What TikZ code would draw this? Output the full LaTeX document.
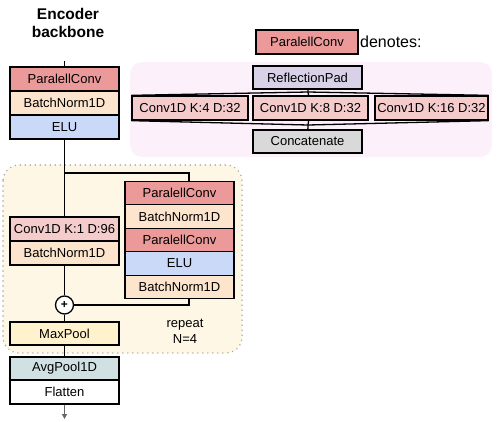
\documentclass[tikz,border=0pt]{standalone}
\usepackage{fontspec}
\setmainfont{Liberation Sans}
\usepackage{tikz}
\usetikzlibrary{positioning,calc,arrows.meta}
\definecolor{pconvred}{rgb}{0.92, 0.6, 0.6}
\definecolor{bnorange}{rgb}{0.99, 0.9, 0.8}
\definecolor{elublue}{rgb}{0.79, 0.85, 0.97}
\definecolor{convpink}{rgb}{0.96, 0.8, 0.8}
\definecolor{padpurple}{rgb}{0.85, 0.82, 0.91}
\definecolor{catgray}{rgb}{0.85, 0.85, 0.85}
\definecolor{poolyellow}{rgb}{1.0, 0.95, 0.8}
\definecolor{avgcyan}{rgb}{0.82, 0.88, 0.89}
\definecolor{bgpink}{rgb}{0.99, 0.94, 0.98}
\definecolor{bgyellow}{rgb}{1.0, 0.97, 0.9}
\tikzset{
	layer/.style={draw,line width=1.3pt,minimum width=109pt,minimum height=24pt,inner sep=0pt,font=\fontsize{13}{15}\selectfont},
	wire/.style={line width=1.3pt}
}
\begin{document}
\begin{tikzpicture}[x=1pt,y=-1pt]
	\useasboundingbox (0,0) rectangle (498,421);
	
	% backgrounds
	\fill[bgpink,rounded corners=12pt] (130,62) rectangle (492,157);
	\draw[bgyellow,fill=bgyellow,rounded corners=16pt] (3,165) rectangle (242,353);
	\draw[gray!70,line width=1.6pt,dash pattern=on 0pt off 5pt,line cap=round,rounded corners=16pt] (3,165) rectangle (242,353);
	
	\node[font=\bfseries\fontsize{15.5}{18.5}\selectfont,align=center] (title) at (68,23) {Encoder\\backbone};
	
	% encoder stem
	\node[layer,fill=pconvred] (pc0) at (64.5,79) {ParalellConv};
	\node[layer,fill=bnorange] (bn0) at (64.5,103) {BatchNorm1D};
	\node[layer,fill=elublue] (elu0) at (64.5,127) {ELU};
	\coordinate (in) at (64.5,61);
	\draw[wire] (in) -- (pc0);
	
	% residual block
	\coordinate (split) at (64.5,173);
	\node[layer,fill=convpink] (skip) at (64.5,229) {Conv1D K:1 D:96};
	\node[layer,fill=bnorange] (bn1) at (64.5,253) {BatchNorm1D};
	
	\node[layer,fill=pconvred,minimum height=23.5pt] (pc1) at (179.5,193) {ParalellConv};
	\node[layer,fill=bnorange,minimum height=23.5pt] (bn2) at (179.5,216.5) {BatchNorm1D};
	\node[layer,fill=pconvred,minimum height=23.5pt] (pc2) at (179.5,240) {ParalellConv};
	\node[layer,fill=elublue,minimum height=23.5pt] (elu1) at (179.5,263.5) {ELU};
	\node[layer,fill=bnorange,minimum height=23.5pt] (bn3) at (179.5,287) {BatchNorm1D};
	
	\node[circle,draw,line width=1.3pt,fill=white,minimum size=18pt,inner sep=0pt,font=\bfseries\fontsize{12}{12}\selectfont] (add) at (64.5,305) {+};
	\node[layer,fill=poolyellow,minimum height=23pt] (mp) at (64.5,333.5) {MaxPool};
	\node[font=\fontsize{13}{16}\selectfont,align=center] (rep) at (185,331) {repeat\\N=4};
	
	\draw[wire] (elu0) -- (skip);
	\draw[wire] (split) -| ($(pc1.north)+(9.5,0)$);
	\draw[wire] ($(bn3.south)+(9.5,0)$) |- (add);
	\draw[wire] (bn1) -- (add);
	\draw[wire] (add) -- (mp);
	
	% head
	\node[layer,fill=avgcyan,minimum height=23pt] (avg) at (64.5,368.5) {AvgPool1D};
	\node[layer,fill=white] (flat) at (64.5,392) {Flatten};
	\coordinate (out) at (64.5,419);
	\draw[wire] (mp) -- (avg);
	\draw[wire,gray!80!black,-{Triangle[width=5pt,length=5pt]}] (flat) -- (out);
	
	% legend
	\node[layer,fill=pconvred,minimum width=102pt] (key) at (307,42) {ParalellConv};
	\node[anchor=west,font=\fontsize{16}{18}\selectfont,inner sep=0pt] (den) at (360,42) {denotes:};
	\node[layer,fill=padpurple,minimum height=23pt] (pad) at (307.5,77.5) {ReflectionPad};
	\node[layer,fill=convpink,minimum width=116pt] (k4) at (190,108) {Conv1D K:4 D:32};
	\node[layer,fill=convpink,minimum width=115pt] (k8) at (310.5,108) {Conv1D K:8 D:32};
	\node[layer,fill=convpink,minimum width=113pt] (k16) at (431.5,108) {Conv1D K:16 D:32};
	\node[layer,fill=catgray,minimum height=23pt] (cat) at (307.5,141.5) {Concatenate};
	\coordinate (fork) at (308,92);
	\coordinate (join) at (308,125);
	\draw[wire] (pad) -- (fork) -- (k8);
	\draw[wire] (fork) -- (k4.north west);
	\draw[wire] (fork) -- (k16.north east);
	\draw[wire] (k8) -- (join) -- (cat);
	\draw[wire] (k4.south west) -- (join);
	\draw[wire] (k16.south east) -- (join);
\end{tikzpicture}
\end{document}
